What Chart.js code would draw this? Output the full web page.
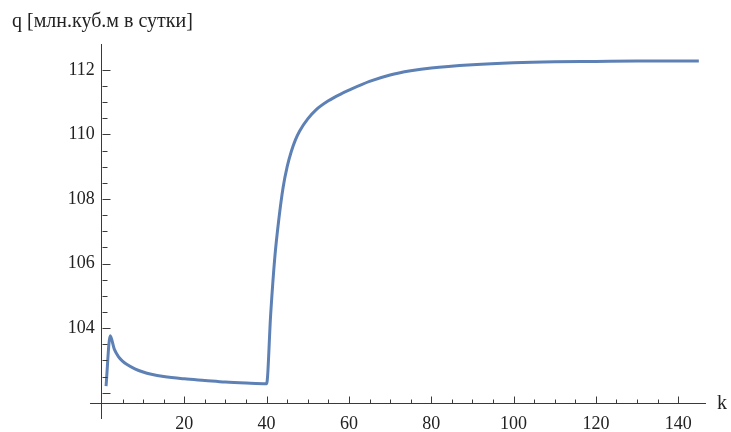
<!DOCTYPE html>
<html>
<head>
<meta charset="utf-8">
<script src="https://cdn.jsdelivr.net/npm/chart.js@4"></script>
<style>
  html, body { margin: 0; padding: 0; background: #fff; }
  #wrap { width: 731px; height: 432px; }
</style>
</head>
<body>
<div id="wrap"><canvas id="qChart"></canvas></div>
<script>
'use strict'
// k steps and q values
const ks = [1, 2, 3, 4, 5, 6, 8, 10, 12, 15, 20, 25, 30, 35, 40,
  41, 42, 43, 44, 45, 46, 47, 48, 50, 52, 55, 58, 60, 65, 70, 75, 80, 90, 100, 110, 120, 130, 145];
const qs = [102.2, 103.76, 103.35, 103.12, 102.98, 102.88, 102.74, 102.64, 102.57, 102.5, 102.43, 102.38, 102.33, 102.3, 102.28,
  104.45, 106.2, 107.4, 108.35, 109.0, 109.47, 109.83, 110.1, 110.48, 110.76, 111.04, 111.25, 111.37, 111.64, 111.84, 111.97, 112.06, 112.16, 112.22, 112.25, 112.26, 112.27, 112.27];

const yTitle = 'q [млн.куб.м в сутки]';
const xTitle = 'k';
const axisQ = 101.67;   // where the k axis crosses

const axisColor = '#3a3a3a';
const textColor = '#222';
const tickFont = { family: 'Liberation Serif', size: 18 };

const innerTicks = {
  id: 'innerTicks',
  afterDraw(chart) {
    const { ctx, scales: { x, y } } = chart;
    const x0 = Math.round(x.getPixelForValue(0)) + 0.5;
    const y0 = Math.round(y.getPixelForValue(axisQ)) + 0.5;
    ctx.save();
    ctx.strokeStyle = axisColor;
    ctx.lineWidth = 1;
    ctx.beginPath();
    x.ticks.forEach(t => {
      if (t.value <= 0 || t.value % 5 !== 0) return;
      const px = Math.round(x.getPixelForValue(t.value)) + 0.5;
      const len = t.value % 20 === 0 ? 7 : 4;
      ctx.moveTo(px, y0);
      ctx.lineTo(px, y0 - len);
    });
    y.ticks.forEach(t => {
      const v2 = t.value * 2;
      if (Math.abs(v2 - Math.round(v2)) > 1e-6) return;
      const py = Math.round(y.getPixelForValue(t.value)) + 0.5;
      const len = Math.abs(t.value - Math.round(t.value)) < 1e-6 && Math.round(t.value) % 2 === 0 ? 8 : 5;
      ctx.moveTo(x0, py);
      ctx.lineTo(x0 + len, py);
    });
    ctx.stroke();

    ctx.fillStyle = textColor;
    ctx.textBaseline = 'middle';
    ctx.textAlign = 'left';
    ctx.font = '20px "Liberation Serif"';
    ctx.fillText(yTitle, 12, 22);
    ctx.fillText(xTitle, 717, y0);
    ctx.restore();
  }
};

const ctx = document.getElementById('qChart').getContext('2d');

const data = {
  datasets: [{
    data: ks.map((k, i) => ({ x: k, y: qs[i] })),
    borderColor: '#5e81b5',
    borderWidth: 3,
    pointRadius: 0,
    cubicInterpolationMode: 'monotone',
    fill: false,
  }],
};

const options = {
  responsive: true,
  maintainAspectRatio: false,
  animation: false,
  layout: {
    padding: { left: 90, right: 26, top: 44, bottom: 12 },
  },
  plugins: {
    legend: { display: false },
    tooltip: { enabled: false },
  },
  scales: {
    x: {
      type: 'linear',
      min: -2.9,
      max: 146.5,
      position: { y: axisQ },
      grid: { display: true, drawOnChartArea: false, drawTicks: false },
      border: { display: true, color: axisColor, width: 1 },
      ticks: {
        stepSize: 5,
        autoSkip: false,
        maxRotation: 0,
        padding: 10,
        color: textColor,
        font: tickFont,
        callback: v => (v > 0 && v % 20 === 0) ? String(v) : '',
      },
    },
    y: {
      type: 'linear',
      min: 101.21,
      max: 112.8,
      position: { x: 0 },
      grid: { display: true, drawOnChartArea: false, drawTicks: false },
      border: { display: true, color: axisColor, width: 1 },
      ticks: {
        stepSize: 0.5,
        autoSkip: false,
        color: textColor,
        font: tickFont,
        // trailing thin spaces keep the label off the axis line
        callback: v => {
          const r = Math.round(v);
          return (Math.abs(v - r) < 1e-6 && r % 2 === 0 && r >= 104) ? String(r) + '\u2009\u2009' : '';
        },
      },
    },
  },
};

new Chart(ctx, {
  type: 'line',
  data: data,
  options: options,
  plugins: [innerTicks],
});
</script>
</body>
</html>
